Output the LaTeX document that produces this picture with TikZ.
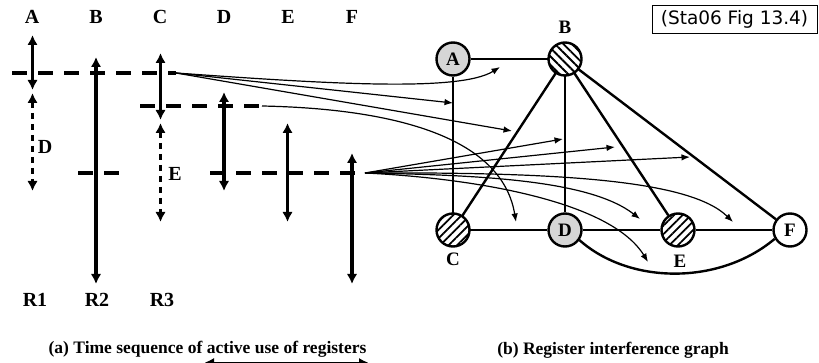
\documentclass[tikz,border=0pt]{standalone}
\usepackage{fontspec}
\setmainfont{Liberation Serif}
\newfontfamily\boxfont{DejaVu Sans}
\usetikzlibrary{arrows.meta,patterns.meta}
\begin{document}
\begin{tikzpicture}[x=1pt,y=-1pt,
  lbl/.style={font=\fontsize{20}{22}\selectfont\bfseries, inner sep=0pt},
  glbl/.style={font=\fontsize{19}{21}\selectfont\bfseries, inner sep=0pt},
  captxt/.style={font=\fontsize{17.5}{20}\selectfont\bfseries, inner sep=0pt, anchor=base},
  life2/.style={line width=3.5pt, {Latex[length=10pt,width=10.5pt]}-{Latex[length=10pt,width=10.5pt]}},
  reuse/.style={line width=2.6pt, dash pattern=on 6.5pt off 4.5pt, {Latex[length=10pt,width=10.5pt]}-{Latex[length=10pt,width=10.5pt]}},
  tickline/.style={line width=4pt, dash pattern=on 15pt off 11pt},
  mapar/.style={line width=1.2pt, -{Latex[length=8.5pt,width=6.5pt]}},
  reg/.style={circle, draw, line width=2.4pt, minimum size=33pt, inner sep=0pt, font=\fontsize{19}{21}\selectfont\bfseries},
  greyreg/.style={reg, fill=black!16},
  hatchne/.style={reg, preaction={fill=white}, pattern={Lines[angle=45,distance=6pt,line width=1.8pt]}},
  hatchnw/.style={reg, preaction={fill=white}, pattern={Lines[angle=-45,distance=6pt,line width=1.8pt]}},
  gedge/.style={line width=2.4pt},
]
\clip (0,0) rectangle (819,363);
\fill[white] (0,0) rectangle (819,363);

% ---------- (a) time sequence ----------
\node[lbl] (hA) at (32,16.5) {A};
\node[lbl] (hB) at (96,16.5) {B};
\node[lbl] (hC) at (160,16.5) {C};
\node[lbl] (hD) at (224,16.5) {D};
\node[lbl] (hE) at (288,16.5) {E};
\node[lbl] (hF) at (352,16.5) {F};

% time instants (dashed horizontals)
\coordinate (s1) at (12,73);   \coordinate (t1) at (176,73);
\coordinate (s2) at (140,106); \coordinate (t2) at (262,106);
\coordinate (s3a) at (78,173); \coordinate (e3a) at (121,173);
\coordinate (s3) at (210,173); \coordinate (t3) at (365,173);
\draw[tickline] (s1) -- (t1);
\draw[tickline] (s2) -- (t2);
\draw[tickline] (s3a) -- (e3a);
\draw[tickline] (s3) -- (t3);

% lifetimes
\coordinate (a1) at (32.5,35);  \coordinate (a2) at (32.5,90);
\coordinate (a3) at (32.5,93);  \coordinate (a4) at (32.5,191);
\coordinate (b1) at (96,57);    \coordinate (b2) at (96,284);
\coordinate (c1) at (160.5,53); \coordinate (c2) at (160.5,120);
\coordinate (c3) at (160.5,123);\coordinate (c4) at (160.5,222);
\coordinate (d1) at (224,92);   \coordinate (d2) at (224,191);
\coordinate (e1) at (287.5,123);\coordinate (e2) at (287.5,222);
\coordinate (f1) at (352,153);  \coordinate (f2) at (352,284);
\draw[life2] (a1) -- (a2);
\draw[reuse] (a3) -- (a4);
\draw[life2] (b1) -- (b2);
\draw[life2] (c1) -- (c2);
\draw[reuse] (c3) -- (c4);
\draw[life2] (d1) -- (d2);
\draw[life2] (e1) -- (e2);
\draw[life2] (f1) -- (f2);

\node[lbl] (lD) at (45,147) {D};
\node[lbl] (lE) at (175,174) {E};

\node[lbl] (R1) at (35,300) {R1};
\node[lbl] (R2) at (97,300) {R2};
\node[lbl] (R3) at (162,300) {R3};

\node[captxt] (capa) at (207.5,353.5) {(a) Time sequence of active use of registers};
\coordinate (w1) at (205,362.5); \coordinate (w2) at (368,362.5);
\draw[line width=1.3pt, {Latex[length=9pt,width=9pt]}-{Latex[length=9pt,width=9pt]}] (w1) -- (w2);

% ---------- (b) interference graph ----------
\node[greyreg] (A) at (453,59)  {A};
\node[hatchnw] (B) at (565,59)  {};
\node[hatchne] (C) at (453,230) {};
\node[greyreg] (D) at (565,230) {D};
\node[hatchne] (E) at (678,230) {};
\node[reg, fill=white] (F) at (790,230) {F};

\node[glbl] (nB) at (565,27)  {B};
\node[glbl] (nC) at (453,259) {C};
\node[glbl] (nE) at (680,261) {E};

\draw[gedge] (A) -- (B);
\draw[gedge] (A) -- (C);
\draw[gedge] (B) -- (C);
\draw[gedge] (B) -- (D);
\draw[gedge] (B) -- (E);
\draw[gedge] (B) -- (F);
\draw[gedge] (C) -- (D);
\draw[gedge] (D) -- (E);
\draw[gedge] (E) -- (F);
\draw[gedge] (D.-35) .. controls (630,285) and (720,285) .. (F.-150);

\node[captxt] (capb) at (613,354.5) {(b) Register interference graph};

\node[draw, line width=0.8pt, minimum width=165pt, minimum height=28pt, inner sep=0pt,
      font=\boxfont\fontsize{18.5}{20}\selectfont] (ref) at (734.5,19) {(Sta06 Fig 13.4)};

% ---------- mapping arrows ----------
\coordinate (pAB) at (500,67);
\coordinate (pAC) at (453,103);
\coordinate (pBC) at (512,131);
\coordinate (pCD) at (516,222);
\coordinate (pBD) at (563,139);
\coordinate (pBE) at (615,147);
\coordinate (pBF) at (690,157);
\coordinate (pDE) at (640,219);
\coordinate (pEF) at (733,222);
\coordinate (pDF) at (648,262);

\draw[mapar] (t1) .. controls (330,84) and (460,92) .. (pAB);
\draw[mapar] (t1) -- (pAC);
\draw[mapar] (t1) -- (pBC);
\draw[mapar] (t2) .. controls (360,108) and (500,125) .. (pCD);
\draw[mapar] (t3) -- (pBD);
\draw[mapar] (t3) -- (pBE);
\draw[mapar] (t3) -- (pBF);
\draw[mapar] (t3) .. controls (480,175) and (590,180) .. (pDE);
\draw[mapar] (t3) .. controls (560,172) and (690,180) .. (pEF);
\draw[mapar] (t3) .. controls (470,178) and (610,200) .. (pDF);
\end{tikzpicture}
\end{document}
